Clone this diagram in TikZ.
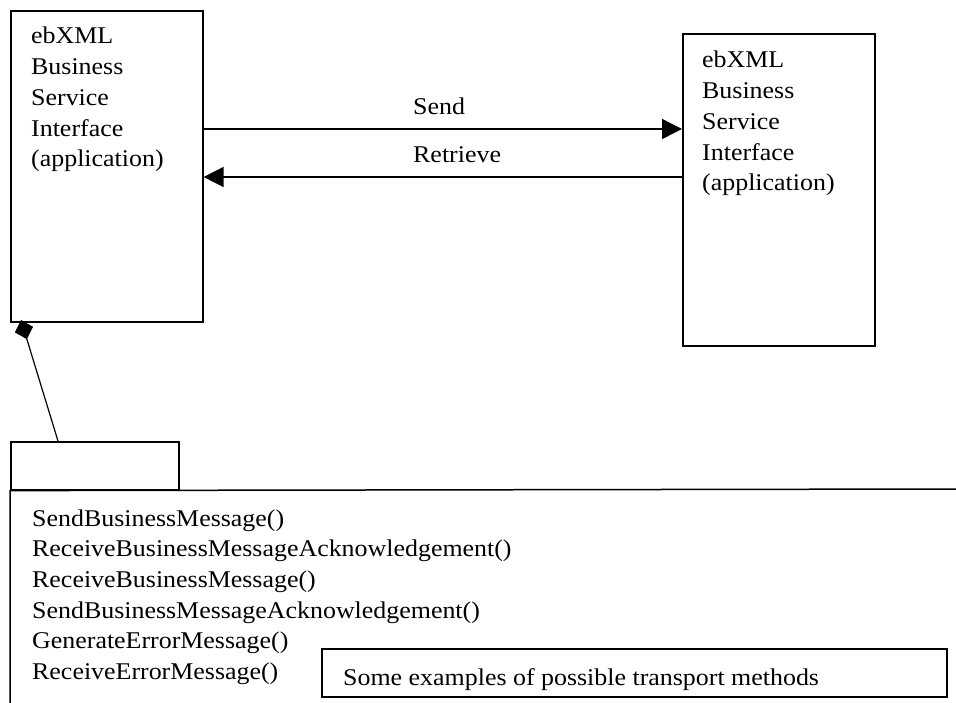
\documentclass[tikz,border=0pt]{standalone}
\usepackage{fontspec}
\setmainfont{Liberation Serif}[FakeStretch=1.08]
\usetikzlibrary{arrows.meta}
\begin{document}
\begin{tikzpicture}[x=1pt,y=-1pt,
  box/.style={draw, line width=1.6pt, inner sep=0pt, anchor=north west},
  lbl/.style={anchor=base west, inner sep=0pt, font=\fontsize{24pt}{30.7pt}\selectfont},
  conn/.style={line width=1.5pt},
  thin conn/.style={line width=1.2pt}]
\useasboundingbox (0,0) rectangle (956,703);
% application boxes
\node[box, minimum width=192pt, minimum height=311pt] (lbox) at (10,10) {};
\node[box, minimum width=192pt, minimum height=312pt] (rbox) at (682,33) {};
\node[lbl] (ltext) at (31,44) {\vtop{\hbox{ebXML}\hbox{Business}\hbox{Service}\hbox{Interface}\hbox{(application)}}};
\node[lbl] (rtext) at (702,68) {\vtop{\hbox{ebXML}\hbox{Business}\hbox{Service}\hbox{Interface}\hbox{(application)}}};
% send / retrieve
\coordinate (sendy) at (0,129);
\coordinate (retry) at (0,177);
\draw[conn, -{Triangle[length=20pt,width=20pt]}] (lbox.east |- sendy) -- (rbox.west |- sendy);
\draw[conn, -{Triangle[length=20pt,width=20pt]}] (rbox.west |- retry) -- (lbox.east |- retry);
\node[lbl] (send) at (413,115) {Send};
\node[lbl] (retr) at (413,163) {Retrieve};
% class with composition
\node[box, minimum width=168pt, minimum height=48pt] (tab) at (10,441) {};
\coordinate (dtip) at (21,320);
\coordinate (dend) at (58,441);
\draw[thin conn, {Diamond[length=20pt,width=19pt]}-] (dtip) -- (dend);
\coordinate (hr) at (956,489);
\coordinate (vb) at (10,703);
\draw[conn] (hr) -- (tab.south west) -- (vb);
\node[lbl] (methods) at (32,526) {\vtop{\hbox{SendBusinessMessage()}\hbox{ReceiveBusinessMessageAcknowledgement()}\hbox{ReceiveBusinessMessage()}\hbox{SendBusinessMessageAcknowledgement()}\hbox{GenerateErrorMessage()}\hbox{ReceiveErrorMessage()}}};
% note
\node[box, minimum width=625pt, minimum height=48pt] (note) at (321,648) {};
\node[lbl] (notetext) at (343,685) {Some examples of possible transport methods};
\end{tikzpicture}
\end{document}
